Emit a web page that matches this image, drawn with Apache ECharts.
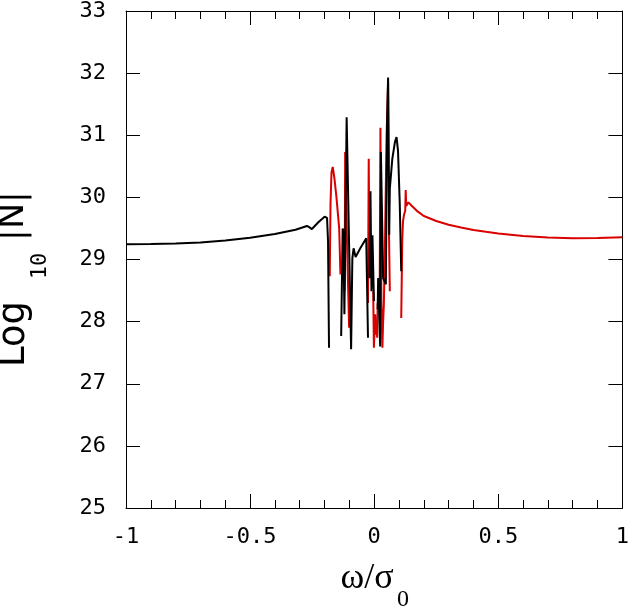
<!DOCTYPE html>
<html>
<head>
<meta charset="utf-8">
<script src="https://cdn.jsdelivr.net/npm/echarts@6/dist/echarts.min.js"></script>
<style>
  html, body { margin: 0; padding: 0; background: #fff; }
  #chart { width: 632px; height: 610px; }
</style>
</head>
<body>
<div id="chart"></div>
<script>
// axis ranges
const xRange = [-1, 1];
const yRange = [25, 33];

// black branch (left flank + central spikes)
const blackLeft = [[-1, 29.245], [-0.9, 29.25], [-0.8, 29.258], [-0.7, 29.275], [-0.6, 29.305],
  [-0.5, 29.35], [-0.4, 29.41], [-0.317, 29.48], [-0.271, 29.54], [-0.262, 29.52], [-0.251, 29.49],
  [-0.225, 29.60], [-0.2, 29.69], [-0.19, 29.67], [-0.186, 29.3], [-0.182, 27.58]];
const blackMidA = [[-0.133, 27.77], [-0.127, 29.50], [-0.124, 29.45], [-0.12, 28.12], [-0.111, 31.29],
  [-0.093, 27.555], [-0.088, 29.02], [-0.083, 29.18], [-0.075, 29.04], [-0.056, 29.18], [-0.044, 29.26],
  [-0.032, 29.34], [-0.028, 29.37], [-0.025, 27.74]];
const blackMidB = [[-0.019, 28.7], [-0.015, 30.1], [-0.011, 28.49], [-0.007, 29.39], [-0.001, 28.33]];
const blackMidC = [[0.014, 28.2], [0.016, 28.70], [0.024, 27.6], [0.027, 30.73], [0.033, 29.4],
  [0.036, 28.70], [0.047, 28.6], [0.052, 31.21], [0.056, 31.93], [0.0605, 29.4], [0.063, 30.14],
  [0.073, 30.62], [0.084, 30.9], [0.09, 30.97], [0.096, 30.75], [0.103, 29.9], [0.109, 28.81]];

// red branch (central spikes + right flank)
const redMidA = [[-0.179, 28.73], [-0.176, 29.9], [-0.172, 30.4], [-0.167, 30.49], [-0.16, 30.3],
  [-0.152, 30.0], [-0.141, 29.5], [-0.136, 28.76]];
const redMidB = [[-0.119, 28.5], [-0.117, 30.73], [-0.109, 29.2], [-0.101, 27.9]];
const redMidC = [[-0.025, 28.3], [-0.022, 30.62], [-0.02, 29.5], [-0.017, 28.8]];
const redMidD = [[-0.004, 28.49], [-0.0012, 27.58], [0.004, 28.12], [0.0068, 27.79], [0.0092, 28.0],
  [0.012, 27.74], [0.014, 28.3]];
const redMidE = [[0.022, 28.4], [0.0252, 31.12], [0.029, 28.33], [0.033, 27.58], [0.036, 28.0],
  [0.039, 28.28], [0.044, 29.4], [0.05, 31.0], [0.056, 31.85], [0.06, 29.34], [0.063, 28.49]];
const redRight = [[0.109, 28.06], [0.113, 29.3], [0.116, 29.61], [0.12, 29.72], [0.125, 29.78],
  [0.127, 30.12], [0.129, 29.86], [0.133, 29.88], [0.138, 29.92], [0.15, 29.87], [0.176, 29.77],
  [0.2, 29.70], [0.25, 29.62], [0.3, 29.56], [0.35, 29.515], [0.4, 29.475], [0.45, 29.445],
  [0.5, 29.42], [0.6, 29.38], [0.7, 29.355], [0.8, 29.343], [0.9, 29.345], [1.0, 29.36]];

const BLACK = '#000000';
const RED = '#d90000';
const monoFont = '"DejaVu Sans Mono", monospace';

function seg(data, color) {
  return {
    type: 'line',
    data: data,
    showSymbol: false,
    symbol: 'none',
    lineStyle: { color: color, width: 2 },
    itemStyle: { color: color },
    animation: false,
    silent: true,
  };
}

function xAx(pos, showLabel) {
  return {
    type: 'value',
    position: pos,
    min: xRange[0],
    max: xRange[1],
    interval: 0.5,
    axisLine: { show: true, onZero: false, lineStyle: { color: '#000', width: 1 } },
    axisTick: { show: true, inside: true, length: 14, lineStyle: { color: '#000', width: 1 } },
    minorTick: { show: true, splitNumber: 5, length: 8, lineStyle: { color: '#000', width: 1 } },
    axisLabel: { show: showLabel, margin: 18, fontFamily: monoFont, fontSize: 22, color: '#000' },
    splitLine: { show: false },
  };
}

function yAx(pos, showLabel) {
  return {
    type: 'value',
    position: pos,
    min: yRange[0],
    max: yRange[1],
    interval: 1,
    axisLine: { show: true, onZero: false, lineStyle: { color: '#000', width: 1 } },
    axisTick: { show: true, inside: true, length: 14, lineStyle: { color: '#000', width: 1 } },
    axisLabel: { show: showLabel, margin: 20, fontFamily: monoFont, fontSize: 22, color: '#000' },
    splitLine: { show: false },
  };
}

const chart = echarts.init(document.getElementById('chart'));
chart.setOption({
  backgroundColor: '#fff',
  animation: false,
  grid: { left: 126, right: 6, top: 8, bottom: 102 },
  xAxis: [xAx('bottom', true), xAx('top', false)],
  yAxis: [yAx('left', true), yAx('right', false)],
  series: [
    seg(redMidA, RED), seg(redMidB, RED), seg(redMidC, RED), seg(redMidD, RED),
    seg(redMidE, RED), seg(redRight, RED),
    seg(blackLeft, BLACK), seg(blackMidA, BLACK), seg(blackMidB, BLACK), seg(blackMidC, BLACK),
  ],
  graphic: [
    // y axis name: Log10|N|
    { type: 'text', x: 14, y: 334, rotation: Math.PI / 2,
      style: { text: 'Log', font: '37px "DejaVu Sans"', fill: '#000', align: 'center', verticalAlign: 'middle' } },
    { type: 'text', x: 40, y: 266, rotation: Math.PI / 2,
      style: { text: '10', font: '22px "DejaVu Sans Mono"', fill: '#000', align: 'center', verticalAlign: 'middle' } },
    { type: 'text', x: 14, y: 216, rotation: Math.PI / 2,
      style: { text: '|N|', font: '35px "DejaVu Sans"', fill: '#000', align: 'center', verticalAlign: 'middle' } },
    // x axis name: ω/σ0
    { type: 'text', x: 367, y: 579,
      style: { text: 'ω/σ', font: '36px "Liberation Serif"', fill: '#000', align: 'center', verticalAlign: 'middle' } },
    { type: 'text', x: 403, y: 600,
      style: { text: '0', font: '24px "Liberation Serif"', fill: '#000', align: 'center', verticalAlign: 'middle' } },
  ],
});
</script>
</body>
</html>
